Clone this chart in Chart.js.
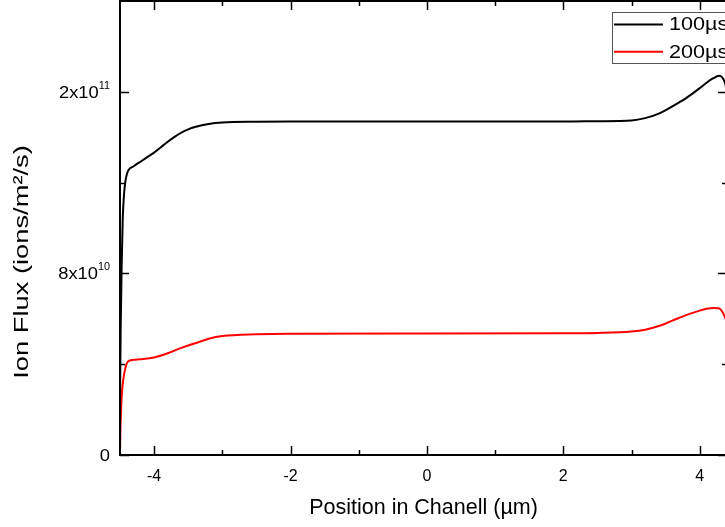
<!DOCTYPE html>
<html>
<head>
<meta charset="utf-8">
<script src="https://cdn.jsdelivr.net/npm/chart.js@4.4.1/dist/chart.umd.min.js"></script>
<style>
  html, body { margin: 0; padding: 0; background: #fff; overflow: hidden; }
  #wrap { position: relative; width: 760px; height: 527px; }
</style>
</head>
<body>
<div id="wrap"><canvas id="c"></canvas></div>
<script>
// ---- data ----
const seriesLabels = ['100µs', '200µs'];
const pos100 = [-4.5, -4.49, -4.475, -4.46, -4.44, -4.42, -4.40, -4.38, -4.3, -4.2, -4.1, -4.0, -3.9, -3.8, -3.7, -3.6, -3.5, -3.4, -3.2, -3.0, -2.5, -2, -1, 0, 1, 2, 2.5, 3.0, 3.2, 3.4, 3.6, 3.8, 4.0, 4.1, 4.2, 4.28, 4.33, 4.37, 4.4];
const flux100 = [0.3e11, 0.7e11, 1.05e11, 1.3e11, 1.44e11, 1.51e11, 1.545e11, 1.566e11, 1.59e11, 1.615e11, 1.64e11, 1.665e11, 1.695e11, 1.725e11, 1.752e11, 1.775e11, 1.793e11, 1.806e11, 1.823e11, 1.831e11, 1.835e11, 1.836e11, 1.836e11, 1.836e11, 1.836e11, 1.836e11, 1.838e11, 1.842e11, 1.855e11, 1.88e11, 1.92e11, 1.965e11, 2.02e11, 2.05e11, 2.075e11, 2.088e11, 2.08e11, 2.05e11, 2.0e11];
const pos200 = [-4.5, -4.495, -4.485, -4.47, -4.45, -4.42, -4.40, -4.36, -4.3, -4.2, -4.0, -3.8, -3.6, -3.4, -3.2, -3.0, -2.5, -2, 0, 2, 2.5, 3.0, 3.2, 3.4, 3.6, 3.8, 4.0, 4.1, 4.2, 4.28, 4.33, 4.37, 4.4];
const flux200 = [0, 0.12e11, 0.24e11, 0.35e11, 0.42e11, 0.48e11, 0.505e11, 0.52e11, 0.524e11, 0.527e11, 0.537e11, 0.56e11, 0.59e11, 0.615e11, 0.64e11, 0.655e11, 0.665e11, 0.668e11, 0.669e11, 0.67e11, 0.672e11, 0.68e11, 0.69e11, 0.71e11, 0.74e11, 0.77e11, 0.795e11, 0.805e11, 0.81e11, 0.808e11, 0.79e11, 0.76e11, 0.73e11];

const xTickValues = [-4, -3, -2, -1, 0, 1, 2, 3, 4];
const xTickLabels = ['-4', '', '-2', '', '0', '', '2', '', '4'];
const yTickValues = [0, 0.5e11, 1e11, 1.5e11, 2e11];
// each label: [base, superscript]
const yTickLabels = [['0', ''], null, ['8x10', '10'], null, ['2x10', '11']];
const xTitle = 'Position in Chanell (µm)';
const yTitle = 'Ion Flux (ions/m²/s)';

const FONT = '"Liberation Sans", Arial, Helvetica, sans-serif';

const framePlugin = {
  id: 'frame',
  afterDraw(chart) {
    const ctx = chart.ctx;
    const a = chart.chartArea;
    const xs = chart.scales.x, ys = chart.scales.y;
    ctx.save();
    ctx.strokeStyle = '#000';
    ctx.lineWidth = 2;
    ctx.strokeRect(a.left, a.top, a.right - a.left, a.bottom - a.top);
    ctx.lineWidth = 1.5;
    ctx.beginPath();
    xTickValues.forEach((v, i) => {
      const px = Math.round(xs.getPixelForValue(v)) + 0.5;
      const len = xTickLabels[i] ? 9 : 5;
      ctx.moveTo(px, a.bottom); ctx.lineTo(px, a.bottom - len);
      ctx.moveTo(px, a.top); ctx.lineTo(px, a.top + len);
    });
    yTickValues.forEach((v, i) => {
      const py = Math.round(ys.getPixelForValue(v)) + 0.5;
      const len = yTickLabels[i] ? 9 : 5;
      ctx.moveTo(a.left, py); ctx.lineTo(a.left + len, py);
      ctx.moveTo(a.right, py); ctx.lineTo(a.right - len, py);
    });
    ctx.stroke();

    // y tick labels with superscripts (slightly wide lettering as in the reference)
    ctx.fillStyle = '#000';
    const sx = 1.08;
    yTickValues.forEach((v, i) => {
      const lab = yTickLabels[i];
      if (!lab) return;
      const py = ys.getPixelForValue(v);
      ctx.font = '17px ' + FONT;
      const wb = ctx.measureText(lab[0]).width * sx;
      ctx.font = '10px ' + FONT;
      const ws = lab[1] ? ctx.measureText(lab[1]).width * sx : 0;
      const right = a.left - 10;
      const x0 = right - wb - ws;
      ctx.textAlign = 'left';
      ctx.textBaseline = 'alphabetic';
      ctx.save();
      ctx.translate(x0, py + 6);
      ctx.scale(sx, 1);
      ctx.font = '17px ' + FONT;
      ctx.fillText(lab[0], 0, 0);
      ctx.restore();
      if (lab[1]) {
        ctx.save();
        ctx.translate(x0 + wb, py - 3);
        ctx.scale(sx, 1);
        ctx.font = '10px ' + FONT;
        ctx.fillText(lab[1], 0, 0);
        ctx.restore();
      }
    });

    // y axis title
    ctx.save();
    ctx.translate(22, 262);
    ctx.rotate(-Math.PI / 2);
    ctx.scale(1.3, 1);
    ctx.font = '21px ' + FONT;
    ctx.textAlign = 'center';
    ctx.textBaseline = 'middle';
    ctx.fillText(yTitle, 0, 0);
    ctx.restore();

    // legend
    const lx = 612.5, ly = 12.5;
    ctx.lineWidth = 1;
    ctx.strokeStyle = '#555';
    ctx.fillStyle = '#fff';
    ctx.fillRect(lx, ly, 140, 51);
    ctx.strokeRect(lx, ly, 140, 51);
    chart.data.datasets.forEach((ds, i) => {
      const cy = 24.5 + i * 27.3;
      ctx.strokeStyle = ds.borderColor;
      ctx.lineWidth = 2;
      ctx.beginPath();
      ctx.moveTo(614, cy); ctx.lineTo(663, cy);
      ctx.stroke();
      ctx.fillStyle = '#000';
      ctx.save();
      ctx.translate(669, cy + 1);
      ctx.scale(1.2, 1);
      ctx.font = '18px ' + FONT;
      ctx.textAlign = 'left';
      ctx.textBaseline = 'middle';
      ctx.fillText(ds.label, 0, 0);
      ctx.restore();
    });
    ctx.restore();
  }
};

new Chart(document.getElementById('c'), {
  type: 'line',
  data: {
    datasets: [
      { label: seriesLabels[0], data: pos100.map((x, i) => ({ x, y: flux100[i] })), borderColor: '#000000', borderWidth: 2, pointRadius: 0, cubicInterpolationMode: 'monotone', fill: false },
      { label: seriesLabels[1], data: pos200.map((x, i) => ({ x, y: flux200[i] })), borderColor: '#ff0000', borderWidth: 2, pointRadius: 0, cubicInterpolationMode: 'monotone', fill: false }
    ]
  },
  options: {
    responsive: true,
    maintainAspectRatio: false,
    animation: false,
    layout: { padding: { left: 0, top: 1, right: 33, bottom: 0 } },
    plugins: { legend: { display: false }, tooltip: { enabled: false } },
    scales: {
      x: {
        type: 'linear', min: -4.5, max: 4.4,
        afterBuildTicks: s => { s.ticks = xTickValues.map(v => ({ value: v })); },
        afterFit: s => { s.height = 72; },
        grid: { display: false, drawTicks: false, tickLength: 0 },
        border: { display: false },
        ticks: {
          autoSkip: false, maxRotation: 0, padding: 12, color: '#000',
          font: { family: FONT, size: 16 },
          callback: (v, i) => xTickLabels[i]
        },
        title: { display: true, text: xTitle, color: '#000', font: { family: FONT, size: 21.5 }, padding: { top: 0, bottom: 6 } }
      },
      y: {
        type: 'linear', min: 0, max: 2.5e11,
        afterBuildTicks: s => { s.ticks = yTickValues.map(v => ({ value: v })); },
        afterFit: s => { s.width = 120; },
        grid: { display: false, drawTicks: false },
        border: { display: false },
        ticks: { display: false },
        title: { display: false }
      }
    }
  },
  plugins: [framePlugin]
});
</script>
</body>
</html>
